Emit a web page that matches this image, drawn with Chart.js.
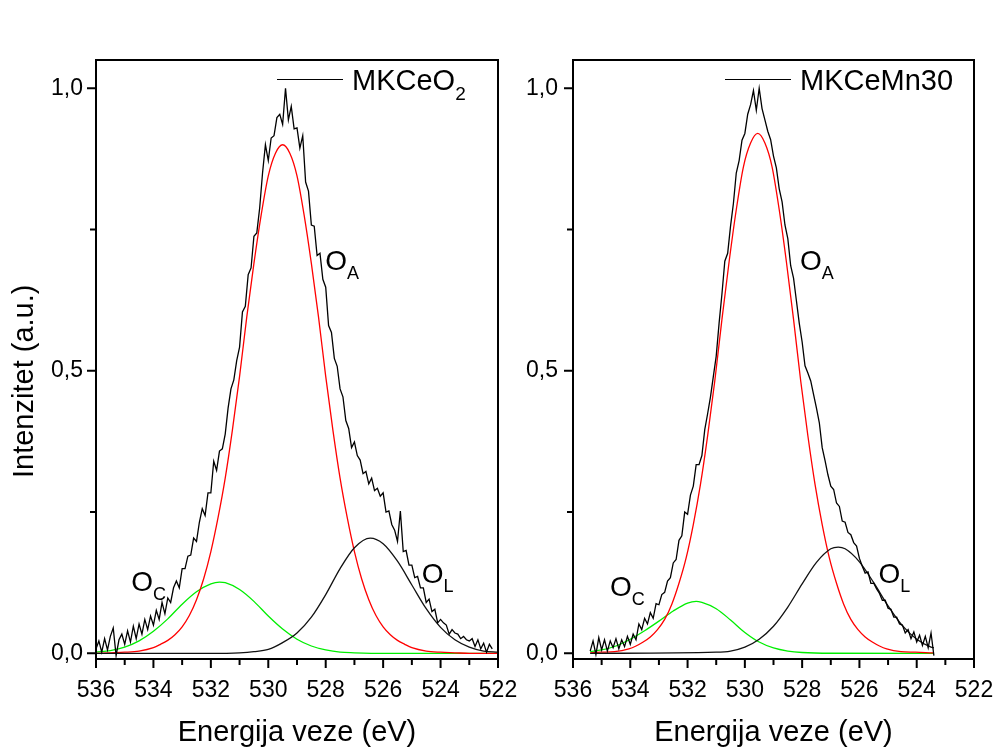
<!DOCTYPE html>
<html>
<head>
<meta charset="utf-8">
<script src="https://cdn.jsdelivr.net/npm/chart.js@4.4.0/dist/chart.umd.min.js"></script>
<style>
  body { margin: 0; background: #fff; }
  #wrap { position: relative; width: 998px; height: 751px; }
  canvas { position: absolute; top: 0; }
  #left { left: 0; }
  #right { left: 520px; }
</style>
</head>
<body>
<div id="wrap">
  <canvas id="left" width="520" height="751"></canvas>
  <canvas id="right" width="478" height="751"></canvas>
</div>
<script>
// MKCeO2 - measured O 1s spectrum (eV, normalised intensity)
const ceo2Energy = [
  536.0,535.9,535.8,535.7,535.6,535.5,535.4,535.3,535.2,535.1,
  535.0,534.9,534.8,534.7,534.6,534.5,534.4,534.3,534.2,534.1,
  534.0,533.9,533.8,533.7,533.6,533.5,533.4,533.3,533.2,533.1,
  533.0,532.9,532.8,532.7,532.6,532.5,532.4,532.3,532.2,532.1,
  532.0,531.9,531.8,531.7,531.6,531.5,531.4,531.3,531.2,531.1,
  531.0,530.9,530.8,530.7,530.6,530.5,530.4,530.3,530.2,530.1,
  530.0,529.9,529.8,529.7,529.6,529.5,529.4,529.3,529.2,529.1,
  529.0,528.9,528.8,528.7,528.6,528.5,528.4,528.3,528.2,528.1,
  528.0,527.9,527.8,527.7,527.6,527.5,527.4,527.3,527.2,527.1,
  527.0,526.9,526.8,526.7,526.6,526.5,526.4,526.3,526.2,526.1,
  526.0,525.9,525.8,525.7,525.6,525.5,525.4,525.3,525.2,525.1,
  525.0,524.9,524.8,524.7,524.6,524.5,524.4,524.3,524.2,524.1,
  524.0,523.9,523.8,523.7,523.6,523.5,523.4,523.3,523.2,523.1,
  523.0,522.9,522.8,522.7,522.6,522.5,522.4,522.3,522.2
];
const ceo2Counts = [
  0.008,0.022,0.002,0.026,0.006,0.030,0.045,-0.004,0.024,0.034,
  0.016,0.040,0.020,0.048,0.026,0.052,0.034,0.060,0.042,0.066,
  0.050,0.076,0.060,0.090,0.070,0.098,0.090,0.116,0.128,0.116,
  0.150,0.150,0.172,0.174,0.204,0.198,0.232,0.256,0.244,0.284,
  0.284,0.340,0.324,0.358,0.362,0.388,0.434,0.468,0.484,0.518,
  0.542,0.604,0.614,0.670,0.682,0.738,0.744,0.788,0.850,0.900,
  0.872,0.912,0.916,0.948,0.954,0.936,1.000,0.944,0.968,0.928,
  0.930,0.894,0.916,0.834,0.818,0.758,0.756,0.704,0.708,0.662,
  0.648,0.580,0.568,0.522,0.508,0.468,0.454,0.412,0.398,0.364,
  0.374,0.350,0.342,0.318,0.322,0.300,0.310,0.288,0.292,0.278,
  0.284,0.250,0.252,0.228,0.218,0.198,0.252,0.180,0.182,0.156,
  0.156,0.134,0.136,0.116,0.116,0.090,0.096,0.074,0.078,0.054,
  0.060,0.054,0.050,0.034,0.042,0.036,0.034,0.026,0.030,0.024,
  0.022,0.026,0.012,0.024,0.008,0.018,0.002,0.016,0.008
];
// MKCeO2 - fitted components
const ceo2OaEnergy = [536,535.5,535,534.5,534,533.75,533.5,533.25,533,532.75,532.5,532.25,532,531.75,531.5,531.25,531,530.75,530.5,530.25,530,529.75,529.5,529.25,529,528.75,528.5,528.25,528,527.75,527.5,527.25,527,526.75,526.5,526.25,526,525.75,525.5,525.25,525,524.5,524,523.5,523,522];
const ceo2OaFit = [0.000,0.001,0.002,0.004,0.010,0.016,0.023,0.033,0.047,0.067,0.095,0.132,0.180,0.240,0.310,0.395,0.490,0.595,0.690,0.775,0.845,0.885,0.900,0.885,0.845,0.775,0.690,0.595,0.490,0.395,0.310,0.240,0.180,0.132,0.095,0.067,0.047,0.033,0.023,0.016,0.010,0.004,0.002,0.001,0.000,0.000];
const ceo2OcEnergy = [536,535.5,535,534.5,534,533.5,533,532.5,532,531.7,531.5,531,530.5,530,529.5,529,528.5,528,527.5,527,526,522];
const ceo2OcFit = [0.002,0.005,0.011,0.022,0.039,0.061,0.087,0.109,0.123,0.126,0.125,0.113,0.092,0.066,0.043,0.025,0.013,0.006,0.002,0.001,0.000,0.000];
const ceo2OlEnergy = [536,532,531,530.5,530,529.5,529,528.5,528,527.5,527,526.45,526,525.5,525,524.5,524,523.5,523,522.5,522];
const ceo2OlFit = [0.000,0.000,0.001,0.003,0.007,0.019,0.036,0.064,0.104,0.150,0.187,0.204,0.194,0.163,0.121,0.079,0.046,0.024,0.011,0.004,0.002];

// MKCeMn30 - measured O 1s spectrum
const mnEnergy = [
  535.4,535.3,535.2,535.1,535.0,534.9,534.8,534.7,534.6,534.5,
  534.4,534.3,534.2,534.1,534.0,533.9,533.8,533.7,533.6,533.5,
  533.4,533.3,533.2,533.1,533.0,532.9,532.8,532.7,532.6,532.5,
  532.4,532.3,532.2,532.1,532.0,531.9,531.8,531.7,531.6,531.5,
  531.4,531.3,531.2,531.1,531.0,530.9,530.8,530.7,530.6,530.5,
  530.4,530.3,530.2,530.1,530.0,529.9,529.8,529.7,529.6,529.5,
  529.4,529.3,529.2,529.1,529.0,528.9,528.8,528.7,528.6,528.5,
  528.4,528.3,528.2,528.1,528.0,527.9,527.8,527.7,527.6,527.5,
  527.4,527.3,527.2,527.1,527.0,526.9,526.8,526.7,526.6,526.5,
  526.4,526.3,526.2,526.1,526.0,525.9,525.8,525.7,525.6,525.5,
  525.4,525.3,525.2,525.1,525.0,524.9,524.8,524.7,524.6,524.5,
  524.4,524.3,524.2,524.1,524.0,523.9,523.8,523.7,523.6,523.5,
  523.4
];
const mnCounts = [
  0.004,0.022,-0.002,0.028,0.006,0.024,0.004,0.022,0.010,0.026,
  0.008,0.024,0.012,0.030,0.016,0.034,0.024,0.052,0.042,0.062,
  0.052,0.072,0.062,0.088,0.086,0.104,0.108,0.128,0.134,0.160,
  0.166,0.200,0.208,0.250,0.246,0.280,0.296,0.334,0.334,0.350,
  0.396,0.424,0.454,0.490,0.526,0.584,0.636,0.694,0.708,0.756,
  0.796,0.850,0.872,0.908,0.920,0.954,0.971,0.996,0.961,1.000,
  0.964,0.944,0.924,0.909,0.880,0.859,0.822,0.799,0.758,0.734,
  0.686,0.664,0.624,0.584,0.551,0.509,0.496,0.482,0.458,0.434,
  0.408,0.364,0.341,0.316,0.296,0.290,0.266,0.260,0.234,0.232,
  0.214,0.210,0.196,0.190,0.168,0.154,0.142,0.144,0.124,0.124,
  0.114,0.106,0.094,0.094,0.080,0.078,0.064,0.064,0.052,0.050,
  0.036,0.042,0.026,0.038,0.020,0.032,0.014,0.030,0.010,0.036,
  -0.004
];
// MKCeMn30 - fitted components
const mnOaEnergy = [535.4,535.05,534.55,534.05,533.8,533.55,533.3,533.05,532.8,532.55,532.3,532.05,531.8,531.55,531.3,531.05,530.8,530.55,530.3,530.05,529.8,529.55,529.3,529.05,528.8,528.55,528.3,528.05,527.8,527.55,527.3,527.05,526.8,526.55,526.3,526.05,525.8,525.55,525.3,525.05,524.55,524.05,523.55,523.4];
const mnOaFit = [0.001,0.002,0.003,0.008,0.013,0.020,0.029,0.042,0.060,0.087,0.124,0.169,0.228,0.299,0.385,0.482,0.591,0.693,0.785,0.861,0.903,0.920,0.903,0.861,0.785,0.693,0.591,0.482,0.385,0.299,0.228,0.169,0.124,0.087,0.060,0.042,0.029,0.020,0.013,0.008,0.003,0.002,0.001,0.001];
const mnOcEnergy = [535.4,535,534.5,534,533.5,533,532.5,532,531.7,531.5,531,530.5,530,529.5,529,528.5,528,527,523.4];
const mnOcFit = [0.003,0.006,0.013,0.025,0.040,0.057,0.075,0.089,0.092,0.090,0.079,0.059,0.037,0.020,0.0095,0.004,0.0015,0.0002,0];
const mnOlEnergy = [535.4,531,530.5,530,529.5,529,528.5,528,527.5,527,526.74,526.5,526,525.5,525,524.5,524,523.5,523.4];
const mnOlFit = [0,0.002,0.004,0.011,0.025,0.048,0.082,0.123,0.161,0.185,0.188,0.185,0.162,0.125,0.084,0.049,0.025,0.011,0.0097];

// axes
const xMajorTicks = [536, 534, 532, 530, 528, 526, 524, 522];
const xMinorTicks = [535, 533, 531, 529, 527, 525, 523];
const yMajorTicks = [0, 0.5, 1.0];
const yMinorTicks = [0.25, 0.75];

const FONT = '"Liberation Sans", Arial, Helvetica, sans-serif';

function pts(xs, ys) {
  return xs.map((x, i) => ({x: x, y: ys[i]}));
}

// text with a subscript tail, e.g. O_A or MKCeO_2
function subText(ctx, x, y, main, sub, size, subSize, drop) {
  ctx.font = size + 'px ' + FONT;
  ctx.fillText(main, x, y);
  const w = ctx.measureText(main).width;
  ctx.font = subSize + 'px ' + FONT;
  ctx.fillText(sub, x + w, y + drop);
}

// frame, outside tick marks, legend, peak labels
function framePlugin(panel) {
  return {
    id: 'frame',
    afterDraw(chart) {
      const ctx = chart.ctx;
      const a = chart.chartArea;
      const xs = chart.scales.x, ys = chart.scales.y;
      ctx.save();
      ctx.strokeStyle = '#000';
      ctx.fillStyle = '#000';
      ctx.lineWidth = 2;
      ctx.strokeRect(a.left, a.top, a.right - a.left, a.bottom - a.top);

      ctx.beginPath();
      xMajorTicks.forEach(v => { const p = xs.getPixelForValue(v); ctx.moveTo(p, a.bottom); ctx.lineTo(p, a.bottom + 9); });
      xMinorTicks.forEach(v => { const p = xs.getPixelForValue(v); ctx.moveTo(p, a.bottom); ctx.lineTo(p, a.bottom + 6); });
      yMajorTicks.forEach(v => { const p = ys.getPixelForValue(v); ctx.moveTo(a.left, p); ctx.lineTo(a.left - 9, p); });
      yMinorTicks.forEach(v => { const p = ys.getPixelForValue(v); ctx.moveTo(a.left, p); ctx.lineTo(a.left - 6, p); });
      ctx.stroke();

      // legend
      const lx = a.left + panel.legendX;
      ctx.lineWidth = 1;
      ctx.beginPath();
      ctx.moveTo(lx, a.top + 19.5);
      ctx.lineTo(lx + 66, a.top + 19.5);
      ctx.stroke();
      ctx.textAlign = 'left';
      ctx.textBaseline = 'alphabetic';
      subText(ctx, lx + 75, a.top + 29.5, panel.name, panel.nameSub, 29, 19, 10.5);

      // peak labels
      panel.peaks.forEach(p => {
        subText(ctx, xs.getPixelForValue(p.e) - 1.5, ys.getPixelForValue(p.v), 'O', p.sub, 28, 18, 9);
      });

      if (panel.yTitle) {
        ctx.translate(33, 478);
        ctx.rotate(-Math.PI / 2);
        ctx.font = '29px ' + FONT;
        ctx.fillText(panel.yTitle, 0, 0);
      }
      ctx.restore();
    }
  };
}

function drawPanel(id, panel) {
  return new Chart(document.getElementById(id), {
    type: 'line',
    data: {
      datasets: [
        {label: panel.name, data: pts(panel.energy, panel.counts), borderColor: '#000', borderWidth: 1.3, tension: 0, order: 0},
        {label: 'OA', data: pts(panel.oaE, panel.oa), borderColor: '#ff0000', borderWidth: 1.3, cubicInterpolationMode: 'monotone', order: 2},
        {label: 'OC', data: pts(panel.ocE, panel.oc), borderColor: '#00ee00', borderWidth: 1.3, cubicInterpolationMode: 'monotone', order: 3},
        {label: 'OL', data: pts(panel.olE, panel.ol), borderColor: '#111', borderWidth: 1.3, cubicInterpolationMode: 'monotone', order: 1}
      ]
    },
    options: {
      responsive: false,
      animation: false,
      layout: {padding: {left: 0, top: 60, right: panel.padRight, bottom: 0}},
      elements: {point: {radius: 0}},
      plugins: {legend: {display: false}, tooltip: {enabled: false}},
      scales: {
        x: {
          type: 'linear', reverse: true, min: 522, max: 536,
          grid: {display: false, drawTicks: false},
          border: {display: false},
          afterBuildTicks: s => { s.ticks = xMajorTicks.map(v => ({value: v})); },
          afterFit: s => { s.height = 92; s.paddingLeft = 0; s.paddingRight = 0; },
          ticks: {padding: 18, color: '#000', font: {family: FONT, size: 23}, maxRotation: 0, autoSkip: false,
                  callback: v => String(v)},
          title: {display: true, text: 'Energija veze (eV)', color: '#000', font: {family: FONT, size: 29},
                  padding: {top: 0, bottom: 1}}
        },
        y: {
          type: 'linear', min: -0.01, max: 1.05,
          grid: {display: false, drawTicks: false},
          border: {display: false},
          afterBuildTicks: s => { s.ticks = yMajorTicks.map(v => ({value: v})); },
          afterFit: s => { s.width = panel.yAxisWidth; s.paddingTop = 0; s.paddingBottom = 0; },
          ticks: {padding: panel.yPad, color: '#000', font: {family: FONT, size: 23},
                  callback: v => v.toFixed(1).replace('.', ',')}
        }
      }
    },
    plugins: [framePlugin(panel)]
  });
}

drawPanel('left', {
  name: 'MKCeO', nameSub: '2', legendX: 181,
  energy: ceo2Energy, counts: ceo2Counts,
  oaE: ceo2OaEnergy, oa: ceo2OaFit, ocE: ceo2OcEnergy, oc: ceo2OcFit, olE: ceo2OlEnergy, ol: ceo2OlFit,
  peaks: [{sub: 'A', e: 527.965, v: 0.679}, {sub: 'C', e: 534.72, v: 0.110}, {sub: 'L', e: 524.60, v: 0.1245}],
  yTitle: 'Intenzitet (a.u.)', yAxisWidth: 96, yPad: 13, padRight: 22
});

drawPanel('right', {
  name: 'MKCeMn30', nameSub: '', legendX: 152,
  energy: mnEnergy, counts: mnCounts,
  oaE: mnOaEnergy, oa: mnOaFit, ocE: mnOcEnergy, oc: mnOcFit, olE: mnOlEnergy, ol: mnOlFit,
  peaks: [{sub: 'A', e: 528.02, v: 0.679}, {sub: 'C', e: 534.66, v: 0.101}, {sub: 'L', e: 525.28, v: 0.1245}],
  yTitle: null, yAxisWidth: 53, yPad: 15, padRight: 24
});
</script>
</body>
</html>
